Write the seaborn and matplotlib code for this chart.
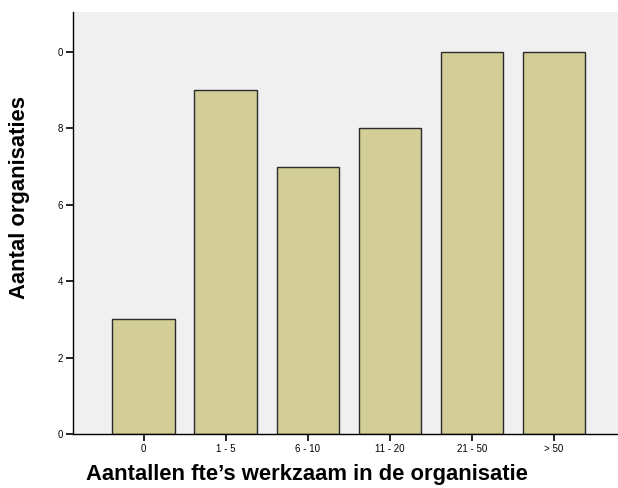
import numpy as np
import pandas as pd
import matplotlib
matplotlib.use("Agg")
import matplotlib.pyplot as plt
import seaborn as sns

categories = ["0", "1 - 5", "6 - 10", "11 - 20", "21 - 50", "> 50"]
counts = [3, 9, 7, 8, 10, 10]
ytick_values = [0, 2, 4, 6, 8, 10]
ytick_labels = ["0", "2", "4", "6", "8", "0"]  # top label is clipped in the original

sns.set_style("white")
plt.rcParams["font.family"] = ["Liberation Sans", "DejaVu Sans"]
plt.rcParams["text.color"] = "black"
plt.rcParams["axes.labelcolor"] = "black"
plt.rcParams["xtick.color"] = "black"
plt.rcParams["ytick.color"] = "black"

df = pd.DataFrame({"klasse": categories, "aantal": counts})

fig = plt.figure(figsize=(6.18, 4.88), dpi=100)
ax = fig.add_axes([73 / 618, 54 / 488, 545 / 618, 422 / 488])
ax.set_facecolor("#F0F0F0")

sns.barplot(data=df, x="klasse", y="aantal", color="#D3CE97", saturation=1,
            width=0.76, edgecolor="#2b2b2b", linewidth=1.0, ax=ax)

ax.set_xlim(-0.86, 5.78)
ax.set_ylim(0, 11.05)
ax.set_yticks(ytick_values)
ax.set_yticklabels(ytick_labels)

ax.tick_params(axis="both", direction="out", length=5, width=1.2, colors="black",
               labelsize=7, pad=2, left=True, bottom=True)

for s in ["top", "right"]:
    ax.spines[s].set_visible(False)
for s in ["left", "bottom"]:
    ax.spines[s].set_color("black")
    ax.spines[s].set_linewidth(1.0)

ax.set_ylabel("Aantal organisaties", fontsize=15.8, fontweight="bold", color="black")
ax.set_xlabel("Aantallen fte\u2019s werkzaam in de organisatie", fontsize=15.8,
              fontweight="bold", color="black")
ax.yaxis.set_label_coords(-0.079, 0.56)
ax.xaxis.set_label_coords(0.43, -0.072)

fig.savefig("out.png", dpi=100)
